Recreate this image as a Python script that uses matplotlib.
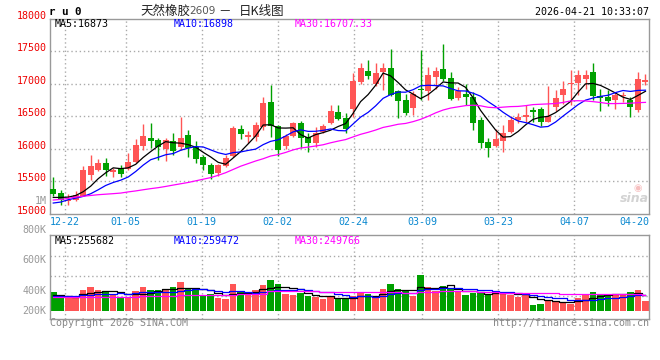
import numpy as np
import pandas as pd
import matplotlib
matplotlib.use("Agg")
import matplotlib.pyplot as plt

# ---------------- data ----------------
dates = ["12-18", "12-19", "12-22", "12-23", "12-24", "12-25", "12-26", "12-29", "12-30", "12-31",
         "01-05", "01-06", "01-07", "01-08", "01-09", "01-12", "01-13", "01-14", "01-15", "01-16",
         "01-19", "01-20", "01-21", "01-22", "01-23", "01-26", "01-27", "01-28", "01-29", "01-30",
         "02-02", "02-03", "02-04", "02-05", "02-06", "02-09", "02-10", "02-11", "02-12", "02-13",
         "02-24", "02-25", "02-26", "02-27", "03-02", "03-03", "03-04", "03-05", "03-06", "03-09",
         "03-10", "03-11", "03-12", "03-13", "03-16", "03-17", "03-18", "03-19", "03-20", "03-23",
         "03-24", "03-25", "03-26", "03-27", "03-30", "03-31", "04-01", "04-02", "04-03", "04-07",
         "04-08", "04-09", "04-10", "04-13", "04-14", "04-15", "04-16", "04-17", "04-20", "04-21"]

opens = [15384, 15317, 15190, 15203, 15276, 15597, 15674, 15786, 15640, 15699,
         15689, 15796, 16041, 16164, 16133, 16001, 16118, 16031, 16205, 16021,
         15878, 15751, 15633, 15735, 15888, 16296, 16179, 16184, 16337, 16720,
         16347, 16041, 16194, 16388, 16174, 16092, 16261, 16398, 16557, 16470,
         16608, 17026, 17194, 16990, 17179, 17245, 16888, 16755, 16628, 16924,
         16883, 17102, 17220, 17087, 16781, 16837, 16796, 16439, 16108, 16041,
         16123, 16261, 16439, 16490, 16592, 16602, 16414, 16633, 16822, 17000,
         17010, 17077, 17179, 16806, 16786, 16755, 16806, 16745, 16592, 17026]
highs = [15557, 15368, 15300, 15343, 15735, 15904, 15847, 15858, 15699, 15750,
         15939, 16143, 16378, 16393, 16159, 16159, 16240, 16490, 16286, 16118,
         15904, 15776, 15766, 15904, 16347, 16362, 16271, 16414, 16796, 16985,
         16362, 16220, 16409, 16429, 16245, 16337, 16373, 16674, 16664, 16541,
         17163, 17321, 17367, 17316, 17321, 17525, 16898, 16847, 16883, 17510,
         17255, 17255, 17602, 17179, 16949, 17000, 16873, 16490, 16159, 16296,
         16363, 16500, 16551, 16664, 16643, 16643, 16959, 16908, 17041, 17204,
         17204, 17204, 17321, 16924, 16898, 16873, 16873, 16796, 17173, 17153]
lows = [15266, 15128, 15130, 15200, 15266, 15511, 15660, 15572, 15562, 15557,
        15674, 15786, 15980, 16005, 15827, 15817, 15904, 15980, 15878, 15776,
        15674, 15531, 15572, 15715, 15878, 16154, 16082, 16118, 16290, 16174,
        15888, 15990, 16184, 16006, 15955, 16031, 16245, 16373, 16439, 16245,
        16480, 17000, 17066, 16960, 16898, 16806, 16465, 16516, 16516, 16745,
        16745, 16924, 17041, 16745, 16745, 16669, 16286, 16006, 15878, 16021,
        15955, 16245, 16398, 16414, 16414, 16347, 16414, 16582, 16684, 16669,
        16822, 16924, 16755, 16582, 16653, 16602, 16720, 16480, 16567, 16975]
closes = [15307, 15215, 15210, 15295, 15664, 15735, 15786, 15664, 15675, 15603,
          15796, 16057, 16194, 16123, 16031, 16133, 15970, 16164, 16006, 15837,
          15741, 15613, 15751, 15857, 16322, 16230, 16205, 16363, 16694, 16347,
          15980, 16194, 16388, 16169, 16082, 16245, 16347, 16577, 16449, 16307,
          17036, 17245, 17117, 17163, 17245, 16822, 16735, 16551, 16837, 16898,
          17128, 17194, 17066, 16766, 16888, 16796, 16398, 16092, 16006, 16143,
          16245, 16439, 16480, 16516, 16567, 16414, 16500, 16771, 16924, 17015,
          17128, 17138, 16806, 16771, 16735, 16822, 16822, 16633, 17077, 17051]
volumes = [291000, 227000, 227000, 227000, 334000, 370000, 334000, 302000, 254000, 211000,
           211000, 318000, 370000, 334000, 334000, 334000, 370000, 450000, 345000, 334000,
           227000, 259000, 207000, 191000, 418000, 302000, 281000, 323000, 402000, 493000,
           418000, 259000, 243000, 275000, 227000, 211000, 180000, 239000, 186000, 186000,
           239000, 281000, 270000, 227000, 350000, 429000, 350000, 313000, 227000, 572000,
           382000, 307000, 398000, 350000, 291000, 254000, 281000, 281000, 254000, 318000,
           281000, 243000, 211000, 243000, 95000, 111000, 175000, 132000, 143000, 107000,
           202000, 254000, 302000, 270000, 254000, 254000, 254000, 291000, 334000, 148000]

# moving-average values before enough visible history exists
ma5_head = [15250, 15250, 15255, 15280]
ma10_head = [15164, 15179, 15215, 15240, 15266, 15307, 15368, 15434, 15480]
ma30_head = [15210, 15220, 15235, 15256, 15268, 15280, 15292, 15300, 15308, 15317,
             15335, 15350, 15368, 15385, 15400, 15419, 15440, 15460, 15480, 15505,
             15530, 15555, 15590, 15630, 15680, 15730, 15770, 15810, 15845]
vma5_head = [254000, 254000, 227000, 218000]
vma10_head = [227000, 227000, 234000, 239000, 243000, 250000, 266000, 270000, 270000]
vma30_head = [211000, 211000, 211000, 211000, 211000, 223000, 223000, 223000, 223000, 223000,
              223000, 223000, 234000, 234000, 234000, 234000, 234000, 243000, 243000, 243000,
              243000, 254000, 254000, 254000, 254000, 266000, 266000, 266000, 266000]

# latest MA readouts as printed on the chart
price_ma_text = ["MA5:16873", "MA10:16898", "MA30:16707.33"]
vol_ma_text = ["MA5:255682", "MA10:259472", "MA30:249766"]

tick_dates = ["12-22", "01-05", "01-19", "02-02", "02-24", "03-09", "03-23", "04-07", "04-20"]
price_ticks = [18000, 17500, 17000, 16500, 16000, 15500, 15000]
vol_tick_labels = ["800K", "600K", "400K", "200K"]

# ---------------- helpers ----------------
def with_head(vals, n, head):
    s = pd.Series(vals, dtype=float).rolling(n).mean().to_numpy()
    s[:n - 1] = head
    return s

ma5 = with_head(closes, 5, ma5_head)
ma10 = with_head(closes, 10, ma10_head)
ma30 = with_head(closes, 30, ma30_head)
vma5 = with_head(volumes, 5, vma5_head)
vma10 = with_head(volumes, 10, vma10_head)
vma30 = with_head(volumes, 30, vma30_head)

W, H = 660, 360
fig = plt.figure(figsize=(6.6, 3.6), dpi=100)
fig.patch.set_facecolor("white")

def fx(px):
    return px / W

def fy(py):
    return 1 - py / H

RED = "#FF5555"
GREEN = "#00A000"
GRID = "#AAAAAA"
BORDER = "#999999"
MONO = "DejaVu Sans Mono"
MA_COLORS = ["black", "#0000FF", "#FF00FF"]

ax = fig.add_axes([fx(50), fy(213.7), fx(649) - fx(50), fy(18.5) - fy(213.7)])
axv = fig.add_axes([fx(50), fy(319), fx(649) - fx(50), fy(234.7) - fy(319)])

n = len(closes)
x = np.arange(n)
o = np.array(opens, float)
c = np.array(closes, float)
hi = np.array(highs, float)
lo = np.array(lows, float)
up = c >= o
cols = [RED if u else GREEN for u in up]

xlim = (-0.433, 79.47)
for a in (ax, axv):
    a.set_xlim(*xlim)
    a.set_xticks([])
    a.set_yticks([])
    for sp in a.spines.values():
        sp.set_color(BORDER)
        sp.set_linewidth(1.0)

# gridlines (vertical) - the chart spaces them slightly wider than the candles
def gx(idx):
    return (65 + (idx - 2) * 7.6 - 53.25) / 7.5

tick_idx = [dates.index(d) for d in tick_dates]
for d, ti in zip(tick_dates, tick_idx):
    if d == "04-20":
        continue
    for a in (ax, axv):
        a.axvline(gx(ti), color=GRID, lw=1.0, ls=(0, (1, 2)), zorder=0)

# price panel
ax.set_ylim(15000, 18000)
for p in price_ticks[1:-1]:
    ax.axhline(p, color=GRID, lw=1.0, ls=(0, (1, 2)), zorder=0)

ax.vlines(x, lo, hi, colors=cols, lw=1.0, zorder=2)
body_bottom = np.minimum(o, c)
body_h = np.maximum(np.abs(c - o), 12)
ax.bar(x, body_h, bottom=body_bottom, width=0.8, color=cols, edgecolor=cols, linewidth=0, zorder=3)

for series, col in zip((ma5, ma10, ma30), MA_COLORS):
    ax.plot(x, series, color=col, lw=0.9, zorder=4)

# price labels
for p in price_ticks:
    py = 18.5 + (18000 - p) / 3000 * (213.7 - 18.5) - 2.7
    fig.text(fx(46.5), fy(py), f"{p}", color="#EE0000", fontsize=7.2, family=MONO,
             ha="right", va="center")
fig.text(fx(46.5), fy(200.5), "1M", color=BORDER, fontsize=7.2, family=MONO, ha="right", va="center")

# date labels
for d, ti in zip(tick_dates, tick_idx):
    if d == "04-20":
        fig.text(fx(649.5), fy(221.7), d, color="#0A88D0", fontsize=7.2, family=MONO,
                 ha="right", va="center")
    else:
        px = 53.25 + gx(ti) * 7.5
        fig.text(fx(px), fy(221.7), d, color="#0A88D0", fontsize=7.2, family=MONO,
                 ha="center", va="center")

# MA texts
for t, col, px in zip(price_ma_text, MA_COLORS, (55, 174, 295)):
    fig.text(fx(px), fy(24), t, color=col, fontsize=7.2, family=MONO, va="center")
for t, col, px in zip(vol_ma_text, MA_COLORS, (55, 174, 295)):
    fig.text(fx(px), fy(241), t, color=col, fontsize=7.2, family=MONO, va="center")

# volume panel
v = np.array(volumes, float)
vscale = 15900.0  # volume per pixel
axv.set_ylim(-(319 - 310.7) * vscale, (310.7 - 234.7) * vscale)
for py in (255.7, 275.7, 295.7):
    axv.axhline((310.7 - py) * vscale, color=GRID, lw=1.0, ls=(0, (1, 2)), zorder=0)
axv.bar(x, v, width=0.87, color=cols, linewidth=0, zorder=2)
for series, col in zip((vma5, vma10, vma30), MA_COLORS):
    axv.plot(x, series, color=col, lw=0.9, zorder=4, drawstyle="steps-mid")

for lab, py in zip(vol_tick_labels, (230.5, 260, 290.5, 311)):
    fig.text(fx(46.5), fy(py), lab, color=BORDER, fontsize=7.2, family=MONO, ha="right", va="center")

# header
fig.text(fx(49), fy(12), "r u 0", color="black", fontsize=7.8, family=MONO, weight="bold", va="center")
cjk = ["Noto Sans CJK SC", "DejaVu Sans"]
fig.text(fx(140), fy(11), "天然橡胶", color="#222222", fontsize=9, family=cjk, va="center")
fig.text(fx(189), fy(11.5), "2609", color="#555555", fontsize=7.5, family="DejaVu Sans", va="center")
fig.text(fx(218), fy(11), "－", color="#222222", fontsize=9, family=cjk, va="center")
fig.text(fx(239), fy(11), "日K线图", color="#222222", fontsize=9, family=cjk, va="center")
fig.text(fx(649), fy(12), "2026-04-21 10:33:07", color="black", fontsize=7.2, family=MONO,
         ha="right", va="center")

# footer
fig.text(fx(50), fy(323.5), "Copyright 2026 SINA.COM", color="#888888", fontsize=7.2, family=MONO, va="center")
fig.text(fx(649), fy(323.5), "http://finance.sina.com.cn", color="#888888", fontsize=7.2, family=MONO,
         ha="right", va="center")

# watermark
fig.text(fx(634), fy(198), "sina", color="#C8C8C8", fontsize=9, family="DejaVu Sans", weight="bold",
         style="italic", ha="center", va="center", alpha=0.8)
fig.text(fx(638), fy(188), "◉", color="#F4B0B0", fontsize=7, family="DejaVu Sans", ha="center",
         va="center", alpha=0.8)

fig.savefig("out.png", dpi=100, facecolor="white")
